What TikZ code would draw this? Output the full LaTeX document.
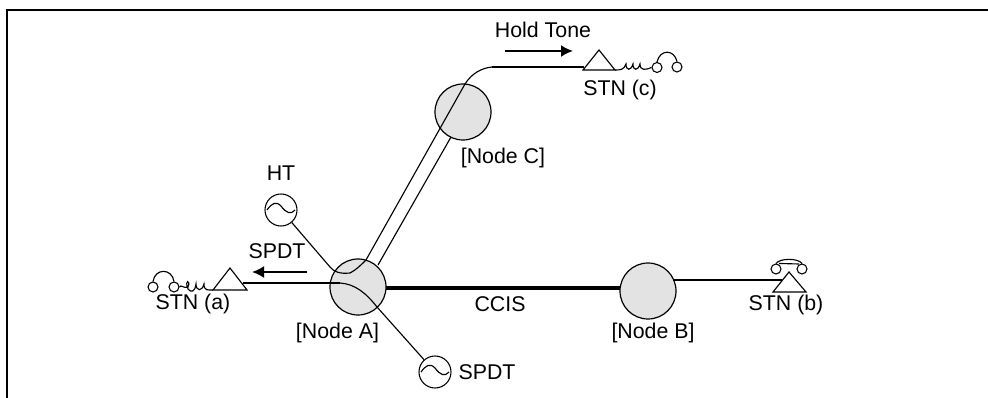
\documentclass[tikz,border=0pt]{standalone}
\usepackage{fontspec}
\setmainfont{Liberation Sans}
\usetikzlibrary{arrows.meta}
\tikzset{
  px/.style={x=0.75pt,y=-0.75pt},
  hub/.style={circle,draw=black,line width=0.9pt,fill=black!11,minimum size=42pt,inner sep=0pt},
  tone/.style={circle,draw=black,line width=0.8pt,fill=white,minimum size=24pt,inner sep=0pt},
  lbl/.style={font=\fontsize{16}{18}\selectfont,inner sep=0pt,text=black},
  thinw/.style={line width=0.85pt},
  med/.style={line width=1.5pt},
  thick2/.style={line width=2.4pt},
  ear/.style={circle,draw=black,line width=0.8pt,fill=white,minimum size=7.5pt,inner sep=0pt},
  tri/.style={line width=0.85pt,line join=miter},
  flow/.style={line width=1.5pt,-{Latex[length=9pt,width=9pt]}}
}
\begin{document}
\begin{tikzpicture}[px]
\useasboundingbox (0,0) rectangle (988,398);
\draw[line width=1.5pt] (7,398) -- (7,10) -- (988,10);
% hubs
\node[hub] (A) at (358,287) {};
\node[hub] (B) at (648,291) {};
\node[hub] (C) at (463,112) {};
% tone sources
\node[tone] (HT) at (281,210) {};
\node[tone] (SP) at (435,372) {};
\draw[thinw] (267,210) .. controls (272,203) and (276,201) .. (281,206) .. controls (286,213) and (291,215) .. (295,210);
\draw[thinw] (421,372) .. controls (426,365) and (430,363) .. (435,368) .. controls (440,375) and (445,377) .. (449,372);
% CCIS trunk
\coordinate (ta) at (386,288);
\coordinate (tb) at (620,288);
\draw[thick2] (ta) -- (tb);
% trunk from A to C and on to STN (c)
\coordinate (hb) at (330,267);
\coordinate (hk) at (350,273);
\coordinate (cl) at (366,260);
\coordinate (cm) at (465,84);
\coordinate (cr) at (492,67);
\draw[thinw] (HT) -- (hb) .. controls (334,272) and (340,274) .. (hk) .. controls (356,270) and (361,265) .. (cl) -- (cm) .. controls (472,73) and (482,68) .. (cr);
\draw[thinw] (378,265) -- (451,137);
% triangles
\draw[tri] (213,290) -- (230,268) -- (247,290) -- cycle;
\draw[tri] (583,70) -- (599,50) -- (615,70) -- cycle;
\draw[tri] (773,292) -- (789,272) -- (806,292) -- cycle;
% heavy lines to stations
\coordinate (sa) at (243,283);
\coordinate (sm) at (340,283);
\coordinate (sc) at (584,67);
\coordinate (sb) at (782,280);
\coordinate (sbl) at (673,280);
\draw[med] (sa) -- (sm);
\draw[med] (cr) -- (sc);
\draw[med] (sbl) -- (sb);
\draw[thinw] (sm) .. controls (355,284) and (366,293) .. (377,307) -- (SP);
% phone a
\node[ear] (ea1) at (153,287) {};
\node[ear] (ea2) at (174,287) {};
\draw[thinw] (ea1.north) .. controls (155,268) and (172,268) .. (ea2.north);
\draw[thinw] (ea2.east) .. controls (181,284) and (184,289) .. (188,287)
  .. controls (191,280) and (184,279) .. (188,289) .. controls (191,293) and (195,292) .. (196,284)
  .. controls (196,291) and (202,292) .. (204,284) .. controls (204,291) and (208,290) .. (213,290);
% phone c
\node[ear] (ec1) at (657,67.5) {};
\node[ear] (ec2) at (677,67) {};
\draw[thinw] (ec1.north) .. controls (660,49) and (674,49) .. (ec2.north);
\draw[thinw] (615,70) .. controls (620,70) and (624,70) .. (626,64) .. controls (626,71) and (631,71) .. (633,64)
  .. controls (633,71) and (638,71) .. (640,64) .. controls (640,71) and (646,70) .. (ec1.west);
% phone b
\node[ear] (eb1) at (776,269) {};
\node[ear] (eb2) at (802,269) {};
\draw[thinw] (eb1.north) .. controls (780,258) and (798,258) .. (eb2.north);
\draw[thinw] (eb1.north) ++(3,0) -- (799,264);
% arrows
\coordinate (fa1) at (307,272);
\coordinate (fa2) at (252,272);
\draw[flow] (fa1) -- (fa2);
\coordinate (fc1) at (505,51);
\coordinate (fc2) at (573,51);
\draw[flow] (fc1) -- (fc2);
% labels
\node[lbl] (l1) at (543,30) {Hold Tone};
\node[lbl] (l2) at (620,89.5) {STN (c)};
\node[lbl] (l3) at (503,158) {[Node C]};
\node[lbl] (l4) at (281,173) {HT};
\node[lbl] (l6) at (277,251) {SPDT};
\node[lbl] (l7) at (193,304) {STN (a)};
\node[lbl] (l8) at (337.5,333) {[Node A]};
\node[lbl] (l9) at (500,304) {CCIS};
\node[lbl] (l10) at (653,333) {[Node B]};
\node[lbl] (l11) at (786,304.5) {STN (b)};
\node[lbl] (l12) at (487,372) {SPDT};
\end{tikzpicture}
\end{document}
